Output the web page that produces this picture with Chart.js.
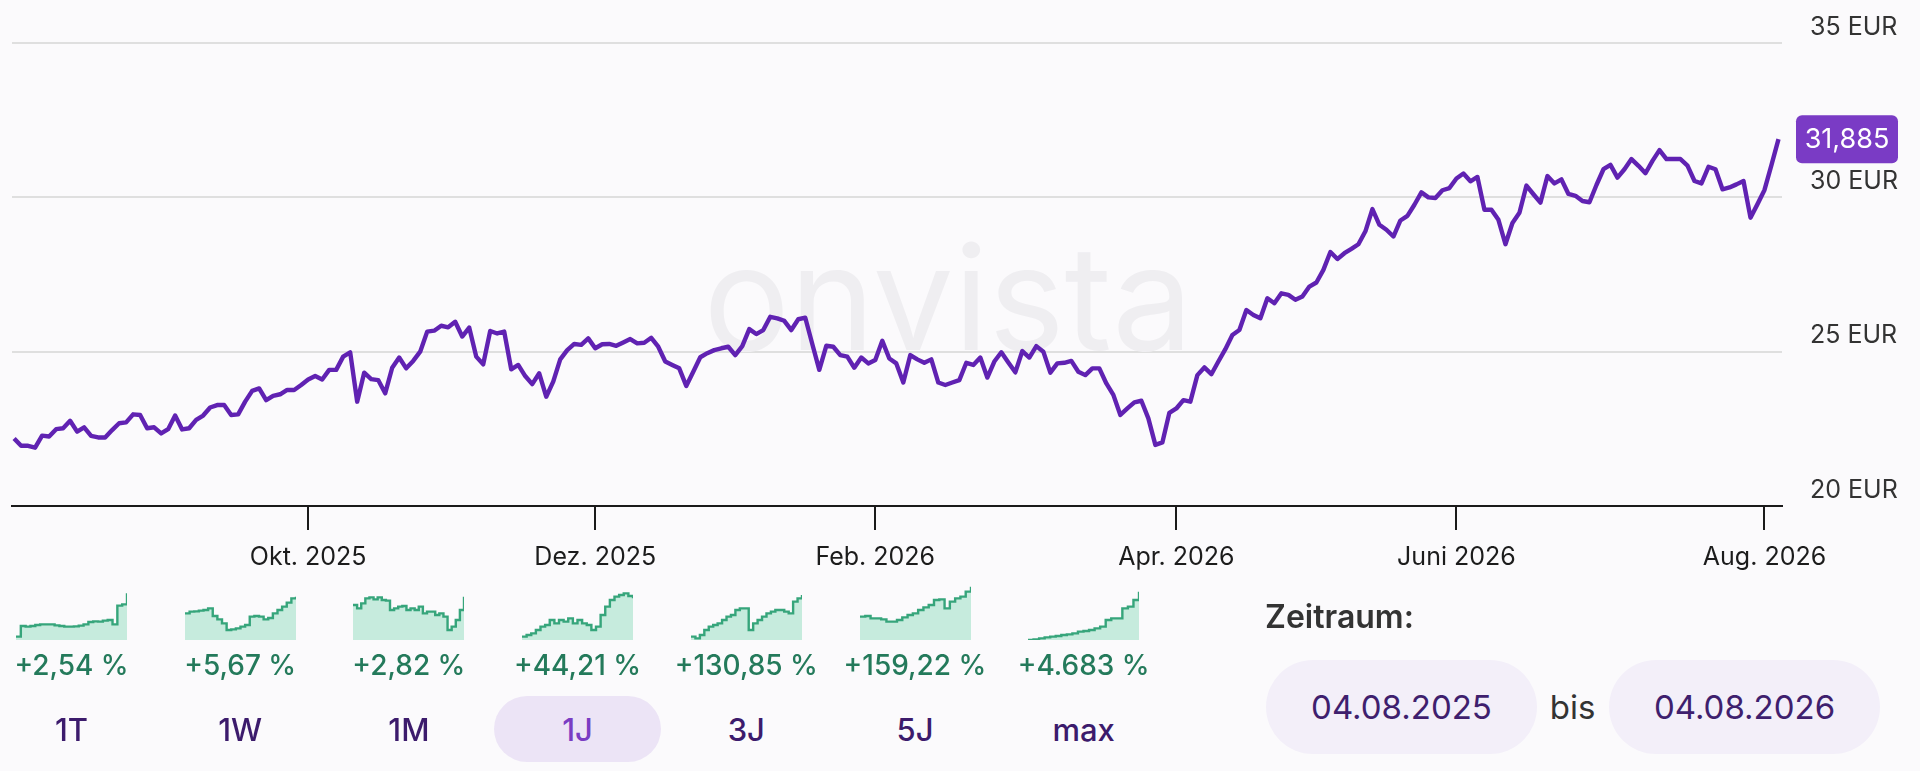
<!DOCTYPE html>
<html lang="de">
<head>
<meta charset="utf-8">
<title>Kursverlauf 1J</title>
<script src="https://cdn.jsdelivr.net/npm/chart.js@4.4.1/dist/chart.umd.min.js"></script>
<style>
  html, body {
    margin: 0;
    padding: 0;
    width: 1920px;
    height: 771px;
    overflow: hidden;
    background: #fbfafc;
    font-family: Inter, "Noto Sans", sans-serif;
  }
  #main { position: absolute; left: 0; top: 0; width: 1920px; height: 600px; }
  .spark { position: absolute; top: 586px; width: 111px; height: 54px; }
  .pct {
    position: absolute; top: 647px; width: 220px; margin-left: -110px;
    text-align: center; font-size: 28px; font-weight: 500; line-height: 36px;
    color: #247a5b; white-space: nowrap;
  }
  .period {
    position: absolute; top: 696px; width: 167px; height: 66px; margin-left: -83.5px;
    line-height: 68px; text-align: center; border-radius: 33px;
    font-size: 31px; font-weight: 500; color: #3c1b6c;
  }
  .period.active { background: #ece4f6; color: #7a3dc3; }
  #zeitraum {
    position: absolute; left: 1265px; top: 597px; line-height: 40px;
    font-size: 32px; font-weight: 600; color: #333;
  }
  .datebox {
    position: absolute; top: 660px; width: 271px; height: 94px; line-height: 94px;
    border-radius: 47px; background: #f3eff9; text-align: center;
    font-size: 33px; color: #3f1f6e;
  }
  #bis {
    position: absolute; left: 1536px; width: 73px; top: 660px; line-height: 94px;
    text-align: center; font-size: 33px; color: #333;
  }
</style>
</head>
<body>
<div id="main"><canvas id="priceChart"></canvas></div>
<div id="bottom"></div>
<div id="zeitraum">Zeitraum:</div>
<div class="datebox" style="left:1266px" id="fromDate"></div>
<div id="bis">bis</div>
<div class="datebox" style="left:1609px" id="toDate"></div>

<script>
// Schlusskurse pro Handelstag, 04.08.2025 - 04.08.2026 (EUR)
const prices = [
    22.19, 21.95, 21.95, 21.89, 22.28, 22.25, 22.49, 22.52, 22.76, 22.41,
    22.55, 22.27, 22.22, 22.22, 22.46, 22.68, 22.71, 22.97, 22.95, 22.52,
    22.55, 22.35, 22.49, 22.93, 22.48, 22.52, 22.79, 22.93, 23.19, 23.27,
    23.27, 22.95, 22.97, 23.38, 23.73, 23.81, 23.43, 23.57, 23.62, 23.76,
    23.76, 23.92, 24.10,
    24.21, 24.10, 24.41, 24.41, 24.84, 24.98, 23.38, 24.32, 24.11, 24.08,
    23.65, 24.48, 24.81, 24.46, 24.70, 25.00, 25.65, 25.68, 25.84, 25.79,
    25.97, 25.49, 25.78, 24.84, 24.59, 25.67, 25.59, 25.65, 24.43, 24.57,
    24.21, 23.95, 24.30, 23.54, 24.03, 24.75, 25.05, 25.25, 25.22, 25.43,
    25.11, 25.24,
    25.25, 25.19, 25.30, 25.41, 25.27, 25.29, 25.45, 25.16, 24.68, 24.57,
    24.46, 23.89, 24.35, 24.82, 24.95, 25.05, 25.11, 25.16, 24.89, 25.18,
    25.73, 25.57, 25.70, 26.13, 26.08, 26.00, 25.70, 26.05, 26.10, 25.25,
    24.41, 25.19, 25.16, 24.89, 24.84, 24.48, 24.81, 24.62, 24.73, 25.35,
    24.78, 24.62, 24.00, 24.89,
    24.75, 24.64, 24.75, 24.00, 23.92, 24.00, 24.08, 24.64, 24.57, 24.81,
    24.16, 24.68, 24.98, 24.65, 24.33, 25.02, 24.81, 25.18, 25.00, 24.32,
    24.62, 24.64, 24.70, 24.35, 24.24, 24.46, 24.46, 23.97, 23.60, 22.95,
    23.16, 23.36, 23.41, 22.84, 21.98, 22.06, 23.02, 23.16, 23.43, 23.38,
    24.24, 24.49, 24.27,
    24.68, 25.08, 25.54, 25.70, 26.35, 26.19, 26.08, 26.73, 26.57, 26.89,
    26.84, 26.68, 26.79, 27.11, 27.24, 27.65, 28.23, 28.00, 28.19, 28.33,
    28.48, 28.90, 29.62, 29.11, 28.95, 28.73, 29.25, 29.40, 29.76, 30.16,
    30.00, 29.98, 30.23, 30.30, 30.61, 30.77, 30.52, 30.66, 29.60, 29.60,
    29.27, 28.48, 29.17,
    29.50, 30.38, 30.10, 29.83, 30.69, 30.45, 30.58, 30.11, 30.05, 29.88,
    29.84, 30.40, 30.91, 31.05, 30.64, 30.91, 31.24, 31.02, 30.78, 31.18,
    31.53, 31.24, 31.24, 31.24, 31.03, 30.53, 30.45, 30.99, 30.91, 30.26,
    30.32, 30.42, 30.53, 29.34, 29.78, 30.24, 31.05, 31.885
]

// Handelstag-Index des ersten Tages im Monat
const tickIdx = [42, 83, 123, 166, 206, 250]
const tickLabels = ["Okt. 2025", "Dez. 2025", "Feb. 2026", "Apr. 2026", "Juni 2026", "Aug. 2026"]

const yTicks = [20, 25, 30, 35]

const periods = ["1T", "1W", "1M", "1J", "3J", "5J", "max"]
const changes = ["+2,54 %", "+5,67 %", "+2,82 %", "+44,21 %", "+130,85 %", "+159,22 %", "+4.683 %"]
const activePeriod = "1J"

// Mini-Verläufe (relative Höhe)
const spark1T = [10, 42, 40, 42, 45, 47, 47, 47, 44, 42, 40, 40, 41, 43, 47, 54, 56, 55, 58, 60, 47, 103, 107, 140]
const spark1W = [80, 85, 86, 88, 90, 95, 72, 62, 50, 30, 32, 35, 40, 45, 70, 72, 70, 62, 66, 80, 90, 100, 112, 125, 130]
const spark1M = [105, 95, 110, 125, 128, 122, 128, 120, 118, 90, 95, 100, 102, 90, 95, 90, 100, 80, 85, 85, 75, 80, 70, 30, 40, 60, 90, 130]
const spark1J = [10, 15, 20, 30, 40, 45, 60, 50, 60, 55, 65, 50, 60, 50, 45, 30, 40, 75, 100, 120, 130, 135, 140, 132, 125]
const spark3J = [10, 5, 15, 30, 40, 45, 50, 60, 70, 75, 90, 95, 95, 30, 50, 60, 70, 80, 85, 90, 90, 85, 80, 115, 125, 135]
const spark5J = [70, 72, 65, 65, 62, 55, 55, 60, 68, 75, 80, 90, 98, 105, 120, 122, 95, 115, 125, 130, 145, 160]
const sparkMax = [0, 2, 5, 8, 10, 12, 15, 17, 20, 25, 27, 30, 35, 40, 60, 65, 65, 95, 100, 120, 145]
const sparks = [spark1T, spark1W, spark1M, spark1J, spark3J, spark5J, sparkMax]

const fromDate = "04.08.2025"
const toDate = "04.08.2026"

const purple = "#6022b2"
const fontFamily = "Inter, 'Noto Sans', sans-serif"

const watermark = {
    id: "watermark",
    beforeDatasetsDraw(chart) {
        const { ctx, chartArea } = chart
        ctx.save()
        ctx.font = "144px " + fontFamily
        ctx.fillStyle = "#efeef1"
        ctx.textAlign = "center"
        ctx.textBaseline = "alphabetic"
        ctx.fillText("onvista", chartArea.left + chartArea.width * 0.529, chartArea.top + 307)
        ctx.restore()
    }
}

const lastBadge = {
    id: "lastBadge",
    afterDraw(chart) {
        const { ctx, scales } = chart
        const last = prices[prices.length - 1]
        const y = scales.y.getPixelForValue(last)
        const x = scales.y.left + 14
        const w = 102, h = 48
        ctx.save()
        ctx.fillStyle = "#7a3bc5"
        ctx.beginPath()
        ctx.roundRect(x, y - h / 2, w, h, 6)
        ctx.fill()
        ctx.fillStyle = "#ffffff"
        ctx.font = "27px " + fontFamily
        ctx.textAlign = "center"
        ctx.textBaseline = "middle"
        ctx.fillText(last.toLocaleString("de-DE", { minimumFractionDigits: 3 }), x + w / 2, y + 1)
        ctx.restore()
    }
}

const ctx = document.getElementById("priceChart").getContext("2d")
const priceChart = new Chart(ctx, {
    type: "line",
    data: {
        datasets: [{
            data: prices.map((p, i) => ({ x: i, y: p })),
            borderColor: purple,
            borderWidth: 4.4,
            borderJoinStyle: "round",
            pointRadius: 0,
            tension: 0,
            fill: false
        }]
    },
    options: {
        responsive: true,
        maintainAspectRatio: false,
        animation: false,
        layout: { padding: { left: 12, right: 0, top: 43, bottom: 0 } },
        plugins: { legend: { display: false }, tooltip: { enabled: false } },
        scales: {
            x: {
                type: "linear",
                min: -0.3,
                max: 252.5,
                afterBuildTicks: (scale) => { scale.ticks = tickIdx.map(v => ({ value: v })) },
                afterFit: (scale) => { scale.height = 94 },
                grid: { drawOnChartArea: false, drawTicks: true, tickLength: 24, color: "#1a1a1a", lineWidth: 2 },
                border: { display: true, color: "#1a1a1a", width: 2 },
                ticks: {
                    autoSkip: false,
                    maxRotation: 0,
                    padding: 12,
                    color: "#1c1c1c",
                    font: { family: fontFamily, size: 25 },
                    callback: (value, index) => tickLabels[index]
                }
            },
            y: {
                position: "right",
                min: 20,
                max: 35,
                afterBuildTicks: (scale) => { scale.ticks = yTicks.map(v => ({ value: v })) },
                afterFit: (scale) => { scale.width = 138 },
                grid: {
                    drawTicks: false,
                    lineWidth: 2,
                    color: (c) => c.tick && c.tick.value === 20 ? "rgba(0,0,0,0)" : "#dfdfdf"
                },
                border: { display: false },
                ticks: {
                    padding: 28,
                    labelOffset: -16,
                    color: "#333333",
                    font: { family: fontFamily, size: 25 },
                    callback: (v) => v + " EUR"
                }
            }
        }
    },
    plugins: [watermark, lastBadge]
})

// Zeitraum-Auswahl mit Mini-Charts
const colLeft = 16
const colStep = 168.7
const colWidth = 111
const bottom = document.getElementById("bottom")

periods.forEach((p, i) => {
    const left = colLeft + i * colStep
    const center = left + colWidth / 2

    const box = document.createElement("div")
    box.className = "spark"
    box.style.left = left + "px"
    const cv = document.createElement("canvas")
    box.appendChild(cv)
    bottom.appendChild(box)

    new Chart(cv.getContext("2d"), {
        type: "line",
        data: {
            labels: sparks[i].map((_, k) => k),
            datasets: [{
                data: sparks[i],
                borderColor: "#36a57b",
                backgroundColor: "#c6ebdd",
                borderWidth: 2.4,
                pointRadius: 0,
                stepped: true,
                fill: "origin"
            }]
        },
        options: {
            responsive: true,
            maintainAspectRatio: false,
            animation: false,
            layout: { padding: 0 },
            plugins: { legend: { display: false }, tooltip: { enabled: false } },
            scales: {
                x: { display: false },
                y: { display: false, min: 0, max: 162 }
            }
        }
    })

    const pct = document.createElement("div")
    pct.className = "pct"
    pct.style.left = center + "px"
    pct.textContent = changes[i]
    bottom.appendChild(pct)

    const btn = document.createElement("div")
    btn.className = "period" + (p === activePeriod ? " active" : "")
    btn.style.left = center + "px"
    btn.textContent = p
    bottom.appendChild(btn)
})

document.getElementById("fromDate").textContent = fromDate
document.getElementById("toDate").textContent = toDate
</script>
</body>
</html>
